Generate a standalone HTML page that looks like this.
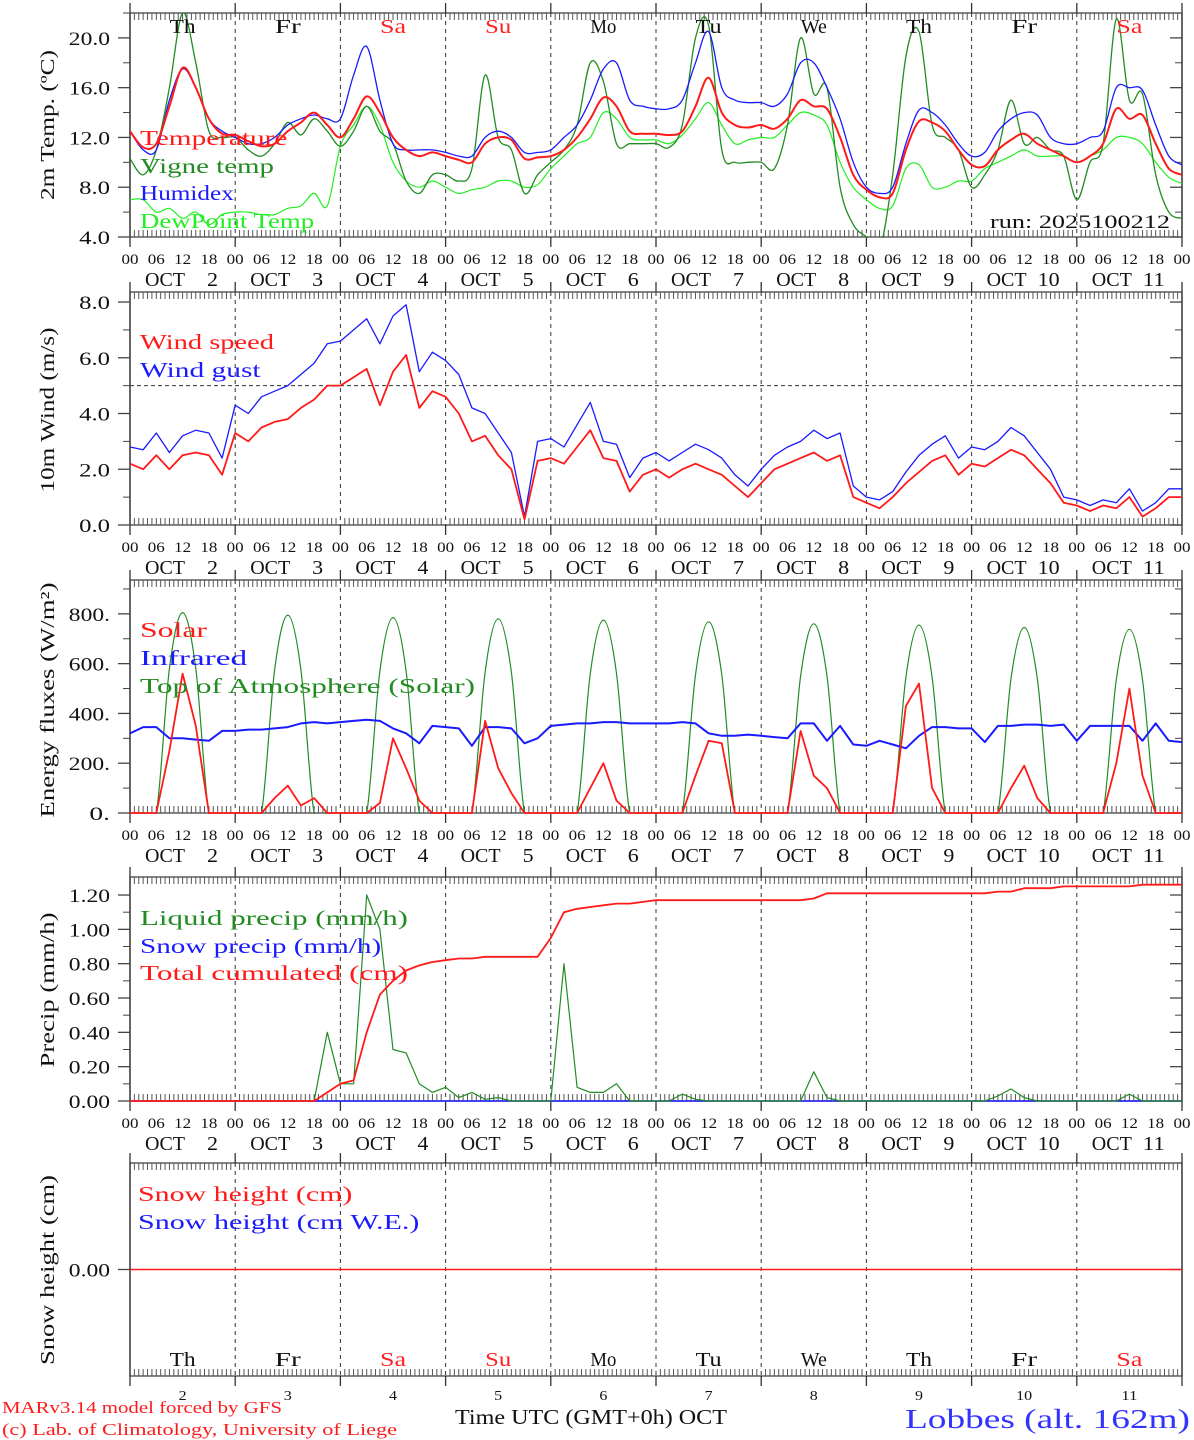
<!DOCTYPE html>
<html><head><meta charset="utf-8">
<style>
html,body{margin:0;padding:0;background:#fff;}
svg{display:block;font-family:"Liberation Serif",serif;}
</style></head>
<body>
<svg id="chart" width="1194" height="1440" viewBox="0 0 1194 1440" xmlns="http://www.w3.org/2000/svg"></svg>
<script>
// ---- data (3-hourly, Oct 2 00UTC .. Oct 12 00UTC, 81 points) ----
const days = ["2","3","4","5","6","7","8","9","10","11"];
const dayNames = ["Th","Fr","Sa","Su","Mo","Tu","We","Th","Fr","Sa"];
const hourLabels = ["00","06","12","18"];
const temperature = [12.5,11.2,11.5,14.5,17.6,16,13.5,12.3, 12.2,11.7,11.3,11.5,12.5,13.2,14,13, 12,13.5,15.3,14,12,11,10.5,10.8, 10.5,10.2,10,11.5,12,11.8,10.3,10.4, 10.5,11,12,13.5,15.2,14.5,12.5,12.3, 12.3,12.2,12.5,14.5,16.8,14,13,12.8, 13,12.7,13.5,15,14.5,14.3,12,9, 7.8,7.2,7.5,11,13.3,13.2,12.5,11, 9.8,9.7,11,11.8,12.3,11.5,11,10.5, 10,10.5,11.5,14.3,13.5,13.8,11.5,9.5,9];
const vigne = [10.3,9,11,16,22,18,12.5,12, 12,11,10.5,11.5,13.2,12.2,13.5,12.5, 11.3,12.5,14.5,12.5,11.5,8.5,7.5,9, 9,8.5,9.5,17,12,11,7.5,9, 10,11,13,18,16.5,11.5,11.5,11.5, 11.5,11.2,13,20,21,11,10,10, 10,9.5,13,20,15.5,16,8,5, 4,3,9,18.5,20.5,13,12,11, 8,9,11,15,11.5,12,11,10.5, 7,10,11.5,21.5,15,15.5,9,6,5.5];
const humidex = [12.5,11,11,15,17.5,16,13.5,12.5, 12,11.5,11.5,12,13,13.5,13.8,13.5, 13.5,17,19.3,15,11.5,11,11,11, 10.8,10.5,10.5,12,12.5,12,10.8,10.8, 11,12,13,15,17.5,18,15,14.5, 14.3,14.3,15,18,20.5,16,15,14.8, 14.8,14.5,15.5,18,18,16,13.5,10, 8,7.5,8,11.5,14.2,14,13,11.5, 10.5,10.8,12.5,13.5,14,13.8,12,11.5, 11.5,12,12.5,16,16,15.8,13,10.5,9.8];
const dewpoint = [7,7,6,6.3,5.5,6,5,5.8, 6,6,5.8,5.8,6.3,6.5,7.5,6.5, 11.3,13,14.5,13,10,8.5,8,8.5, 8,7.5,7.8,8,8.5,8.5,8,8.2, 9.5,10.5,11.5,12,14,13.5,12,11.8, 11.8,11.5,12.2,13.5,14.8,13,11.5,11.8, 12,12,13,14,13.8,13,10,8, 7,6.3,6.5,9.5,9.8,8,8,8.5, 8.5,9.5,10,10.5,11,10.5,10.5,10.5, 10,10.5,11,12,12,11.5,10,8.8,8.3];
const windSpeed = [2.2,2.0,2.5,2.0,2.5,2.6,2.5,1.8, 3.3,3.0,3.5,3.7,3.8,4.2,4.5,5.0, 5.0,5.3,5.6,4.3,5.5,6.1,4.2,4.8, 4.6,4.0,3.0,3.2,2.5,2.0,0.2,2.3, 2.4,2.2,2.8,3.4,2.4,2.3,1.2,1.8, 2.0,1.7,2.0,2.2,2.0,1.8,1.4,1.0, 1.5,2.0,2.2,2.4,2.6,2.3,2.5,1.0, 0.8,0.6,1.0,1.5,1.9,2.3,2.5,1.8, 2.2,2.1,2.4,2.7,2.5,2.0,1.5,0.8, 0.7,0.5,0.7,0.6,1.0,0.3,0.6,1.0,1.0];
const windGust = [2.8,2.7,3.3,2.6,3.2,3.4,3.3,2.4, 4.3,4.0,4.6,4.8,5.0,5.4,5.8,6.5, 6.6,7.0,7.4,6.5,7.5,7.9,5.5,6.2, 5.9,5.4,4.2,4.0,3.3,2.6,0.3,3.0, 3.1,2.8,3.6,4.4,3.0,2.9,1.7,2.4, 2.6,2.3,2.6,2.9,2.7,2.4,1.8,1.4, 2.0,2.5,2.8,3.0,3.4,3.1,3.3,1.4, 1.0,0.9,1.2,1.9,2.5,2.9,3.2,2.4, 2.8,2.7,3.0,3.5,3.2,2.6,2.0,1.0, 0.9,0.7,0.9,0.8,1.3,0.5,0.8,1.3,1.3];
const solar = [0,0,0,250,560,350,0,0, 0,0,0,60,110,30,60,0, 0,0,0,40,300,180,50,0, 0,0,0,370,180,80,0,0, 0,0,0,100,200,50,0,0, 0,0,0,150,290,280,0,0, 0,0,0,330,150,100,0,0, 0,0,0,430,520,100,0,0, 0,0,0,100,190,60,0,0, 0,0,0,200,500,150,0,0,0];
const infrared = [320,345,345,300,300,295,290,330, 330,335,335,340,345,360,365,360, 365,370,375,370,340,320,280,350, 345,340,270,345,345,340,280,300, 350,355,360,360,365,365,360,360, 360,360,365,360,320,310,310,315, 310,305,300,360,360,290,350,275, 270,290,275,260,310,345,345,340, 340,285,350,350,355,355,350,355, 290,350,350,350,350,290,360,290,285];
const toa = [0,0,0,580,805,580,0,0, 0,0,0,575,795,575,0,0, 0,0,0,570,785,570,0,0, 0,0,0,565,780,565,0,0, 0,0,0,560,775,560,0,0, 0,0,0,555,768,555,0,0, 0,0,0,550,760,550,0,0, 0,0,0,545,755,545,0,0, 0,0,0,540,745,540,0,0, 0,0,0,535,738,535,0,0,0];
const liquidPrecip = [0,0,0,0,0,0,0,0, 0,0,0,0,0,0,0,0.4, 0.1,0.1,1.2,1.0,0.3,0.28,0.1,0.05, 0.08,0.02,0.05,0.01,0.02,0,0,0, 0,0.8,0.08,0.05,0.05,0.1,0,0, 0,0,0.04,0.01,0,0,0,0, 0,0,0,0,0.17,0.02,0,0, 0,0,0,0,0,0,0,0, 0,0,0.03,0.07,0.02,0,0,0, 0,0,0,0,0.04,0,0,0,0];
const cumulated = [0,0,0,0,0,0,0,0, 0,0,0,0,0,0,0,0.05, 0.1,0.12,0.4,0.62,0.7,0.76,0.79,0.81, 0.82,0.83,0.83,0.84,0.84,0.84,0.84,0.84, 0.95,1.1,1.12,1.13,1.14,1.15,1.15,1.16, 1.17,1.17,1.17,1.17,1.17,1.17,1.17,1.17, 1.17,1.17,1.17,1.17,1.18,1.21,1.21,1.21, 1.21,1.21,1.21,1.21,1.21,1.21,1.21,1.21, 1.21,1.21,1.22,1.22,1.24,1.24,1.24,1.25, 1.25,1.25,1.25,1.25,1.25,1.26,1.26,1.26,1.26];
const snowHeight = new Array(81).fill(0);

// ---- helpers ----
const svg = document.getElementById('chart');
const NS = 'http://www.w3.org/2000/svg';
const X0 = 130, X1 = 1182;
function xs(i){ return X0 + i * (X1 - X0) / 80; }      // i = 3-hour index
function xh(h){ return X0 + h * (X1 - X0) / 240; }     // h = hours
function el(tag, attrs, parent){
  const e = document.createElementNS(NS, tag);
  for (const k in attrs) e.setAttribute(k, attrs[k]);
  (parent || svg).appendChild(e);
  return e;
}
function txt(s, x, y, size, color, w, anchor, parent){
  const t = el('text', {x:x, y:y, 'font-size':size, fill:color, 'text-anchor':anchor||'start'}, parent);
  if (w) { t.setAttribute('textLength', w); t.setAttribute('lengthAdjust','spacingAndGlyphs'); }
  t.textContent = s;
  return t;
}
let clipId = 0;
function makePanel(name, top, bot, vmin, vmax){
  const g = el('g', {});
  
  
  const y = v => bot - (v - vmin) * (bot - top) / (vmax - vmin);
  const id = 'clip' + (clipId++);
  const cp = el('clipPath', {id:id}, g);
  el('rect', {x:X0, y:top, width:X1-X0, height:bot-top+1}, cp);
  el('rect', {x:X0, y:top, width:X1-X0, height:bot-top, fill:'none', stroke:'#444', 'stroke-width':1.3}, g);
  for (let h = 0; h <= 240; h++){
    const x = xh(h);
    if (h % 24 === 0) continue;
    el('line', {x1:x, y1:top, x2:x, y2:top+7, stroke:'#555', 'stroke-width':1}, g);
    el('line', {x1:x, y1:bot, x2:x, y2:bot-7, stroke:'#555', 'stroke-width':1}, g);
  }
  for (let d = 1; d < 10; d++){
    const x = xh(d*24);
    el('line', {x1:x, y1:top, x2:x, y2:bot, stroke:'#333', 'stroke-width':1, 'stroke-dasharray':'4,4'}, g);
    el('line', {x1:x, y1:top-10, x2:x, y2:top, stroke:'#333', 'stroke-width':1.3}, g);
    el('line', {x1:x, y1:bot, x2:x, y2:bot+10, stroke:'#333', 'stroke-width':1.3}, g);
  }
  el('line', {x1:X0, y1:top-10, x2:X0, y2:bot+10, stroke:'#333', 'stroke-width':1.3}, g);
  el('line', {x1:X1, y1:top-10, x2:X1, y2:bot+10, stroke:'#333', 'stroke-width':1.3}, g);
  return {g, y, top, bot, clip:id};
}
function yTicks(p, major, minor, fmt){
  minor.forEach(v => {
    el('line', {x1:X0-7, y1:p.y(v), x2:X0, y2:p.y(v), stroke:'#444', 'stroke-width':1}, p.g);
    el('line', {x1:X1-7, y1:p.y(v), x2:X1, y2:p.y(v), stroke:'#444', 'stroke-width':1}, p.g);
  });
  major.forEach(v => {
    el('line', {x1:X0-12, y1:p.y(v), x2:X0, y2:p.y(v), stroke:'#444', 'stroke-width':1.3}, p.g);
    el('line', {x1:X1-12, y1:p.y(v), x2:X1, y2:p.y(v), stroke:'#444', 'stroke-width':1.3}, p.g);
    const s = fmt(v);
    const t = txt(s, 110, p.y(v)+7, 19, '#111', s.length*10.3, 'end', p.g);
    
    
  });
}
function xLabels(p){
  const g = el('g', {}, p.g);
  
  
  for (let d = 0; d < 10; d++){
    hourLabels.forEach((hl, k) => {
      txt(hl, xh(d*24 + k*6), p.bot+27, 15, '#111', 17, 'middle', g);
    });
    const x0 = xh(d*24);
    txt('OCT', x0+15, p.bot+49, 20, '#111', 40, 'start', g);
    txt(days[d], x0+88, p.bot+49, 20, '#111', days[d].length*11, 'end', g);
  }
  txt('00', xh(240), p.bot+27, 15, '#111', 17, 'middle', g);
}
function series(p, data, color, width, name, smooth){
  const P = data.map((v,i) => [xs(i), p.y(v)]);
  let d = 'M' + P[0][0].toFixed(1) + ',' + P[0][1].toFixed(1);
  for (let i = 1; i < P.length; i++){
    if (smooth){
      const a = P[Math.max(0,i-2)], b = P[i-1], c = P[i], e = P[Math.min(P.length-1,i+1)];
      const c1x = b[0] + (c[0]-a[0])/6, c1y = b[1] + (c[1]-a[1])/6;
      const c2x = c[0] - (e[0]-b[0])/6, c2y = c[1] - (e[1]-b[1])/6;
      d += ' C' + c1x.toFixed(1)+','+c1y.toFixed(1)+' '+c2x.toFixed(1)+','+c2y.toFixed(1)+' '+c[0].toFixed(1)+','+c[1].toFixed(1);
    } else {
      d += ' L' + P[i][0].toFixed(1) + ',' + P[i][1].toFixed(1);
    }
  }
  const pl = el('path', {d:d, fill:'none', stroke:color, 'stroke-width':width, 'stroke-linejoin':'round', 'clip-path':'url(#'+p.clip+')'}, p.g);
  
  
}
function legend(p, label, x, y, color, name){
  const t = txt(label, x, y, 21, color, label.length*13.4, 'start', p.g);
  
  
}
function yTitle(label, cy, w){
  const t = txt(label, 0, 0, 20, '#111', w, 'middle');
  t.setAttribute('transform', 'translate(54,' + cy + ') rotate(-90)');
  
  
}

// ---- panel 1: temperature ----
const p1 = makePanel('temperature-panel', 13, 237, 4, 22);
yTicks(p1, [4,8,12,16,20], [6,10,14,18,22], v => v.toFixed(1));
series(p1, dewpoint, '#22ee22', 1.2, 'dewpoint-line', true);
series(p1, vigne, '#228b22', 1.3, 'vigne-temp-line', true);
series(p1, humidex, '#1a1aff', 1.3, 'humidex-line', true);
series(p1, temperature, '#ff1a1a', 2, 'temperature-line', true);
dayNames.forEach((n, d) => {
  const t = txt(n, xh(d*24+12), 33, 20, (n==='Sa'||n==='Su')?'#ff2020':'#111', n.length*13, 'middle', p1.g);
  
  
});
legend(p1, 'Temperature', 140, 145, '#ff1a1a', 'legend-temperature');
legend(p1, 'Vigne temp', 140, 173, '#228b22', 'legend-vigne-temp');
legend(p1, 'Humidex', 140, 200, '#1a1aff', 'legend-humidex');
legend(p1, 'DewPoint Temp', 140, 228, '#22ee22', 'legend-dewpoint');
const run = txt('run: 2025100212', 1170, 228, 19, '#111', 180, 'end', p1.g);


xLabels(p1);
yTitle('2m Temp. (ºC)', 125, 150);

// ---- panel 2: wind ----
const p2 = makePanel('wind-panel', 292, 525, 0, 8.36);
yTicks(p2, [0,2,4,6,8], [1,3,5,7], v => v.toFixed(1));
const thr = el('line', {x1:X0, y1:p2.y(5), x2:X1, y2:p2.y(5), stroke:'#333', 'stroke-width':1, 'stroke-dasharray':'4,3'}, p2.g);


series(p2, windGust, '#1a1aff', 1.3, 'wind-gust-line', false);
series(p2, windSpeed, '#ff1a1a', 1.8, 'wind-speed-line', false);
legend(p2, 'Wind speed', 140, 349, '#ff1a1a', 'legend-wind-speed');
legend(p2, 'Wind gust', 140, 377, '#1a1aff', 'legend-wind-gust');
xLabels(p2);
yTitle('10m Wind (m/s)', 410, 165);

// ---- panel 3: energy ----
const p3 = makePanel('energy-panel', 580, 813, 0, 936);
yTicks(p3, [0,200,400,600,800], [100,300,500,700,900], v => v + '.');
series(p3, toa, '#228b22', 1.2, 'toa-solar-line', true);
series(p3, infrared, '#1a1aff', 2, 'infrared-line', false);
series(p3, solar, '#ff1a1a', 1.8, 'solar-line', false);
legend(p3, 'Solar', 140, 637, '#ff1a1a', 'legend-solar');
legend(p3, 'Infrared', 140, 665, '#1a1aff', 'legend-infrared');
legend(p3, 'Top of Atmosphere (Solar)', 140, 693, '#228b22', 'legend-toa');
xLabels(p3);
yTitle('Energy fluxes (W/m²)', 700, 235);

// ---- panel 4: precip ----
const p4 = makePanel('precip-panel', 877, 1101, 0, 1.305);
yTicks(p4, [0,0.2,0.4,0.6,0.8,1.0,1.2], [0.1,0.3,0.5,0.7,0.9,1.1], v => v.toFixed(2));
series(p4, snowHeight, '#1a1aff', 1.5, 'snow-precip-line', false);
series(p4, liquidPrecip, '#228b22', 1.2, 'liquid-precip-line', false);
series(p4, cumulated, '#ff1a1a', 1.8, 'cumulated-precip-line', false);
legend(p4, 'Liquid precip (mm/h)', 140, 925, '#228b22', 'legend-liquid-precip');
legend(p4, 'Snow precip (mm/h)', 140, 953, '#1a1aff', 'legend-snow-precip');
legend(p4, 'Total cumulated (cm)', 140, 980, '#ff1a1a', 'legend-cumulated');
xLabels(p4);
yTitle('Precip (mm/h)', 990, 155);

// ---- panel 5: snow height ----
const p5 = makePanel('snow-panel', 1163, 1376, -1, 1);
yTicks(p5, [0], [], v => v.toFixed(2));
series(p5, snowHeight, '#ff1a1a', 1.5, 'snow-height-line', false);
legend(p5, 'Snow height (cm)', 138, 1201, '#ff1a1a', 'legend-snow-height');
legend(p5, 'Snow height (cm W.E.)', 138, 1229, '#1a1aff', 'legend-snow-we');
dayNames.forEach((n, d) => {
  const t = txt(n, xh(d*24+12), 1366, 20, (n==='Sa'||n==='Su')?'#ff2020':'#111', n.length*13, 'middle', p5.g);
  
  
  const t2 = txt(days[d], xh(d*24+12), 1400, 14, '#111', days[d].length*8, 'middle', p5.g);
  
  
});
yTitle('Snow height (cm)', 1270, 190);
</script>
<div style="position:absolute;left:0;top:0;width:1194px;height:1440px;pointer-events:none;">
<svg width="1194" height="1440" style="position:absolute;left:0;top:0">
<text x="455" y="1424" font-family="Liberation Serif, serif" font-size="21" fill="#111" textLength="272" lengthAdjust="spacingAndGlyphs">Time UTC (GMT+0h) OCT</text>
<text x="2" y="1413" font-family="Liberation Serif, serif" font-size="17" fill="#ff1a1a" textLength="280" lengthAdjust="spacingAndGlyphs">MARv3.14 model forced by GFS</text>
<text x="2" y="1435" font-family="Liberation Serif, serif" font-size="17" fill="#ff1a1a" textLength="395" lengthAdjust="spacingAndGlyphs">(c) Lab. of Climatology, University of Liege</text>
<text x="905" y="1428" font-family="Liberation Serif, serif" font-size="27" fill="#3333ff" textLength="285" lengthAdjust="spacingAndGlyphs">Lobbes (alt. 162m)</text>
</svg>
</div>
</body></html>
